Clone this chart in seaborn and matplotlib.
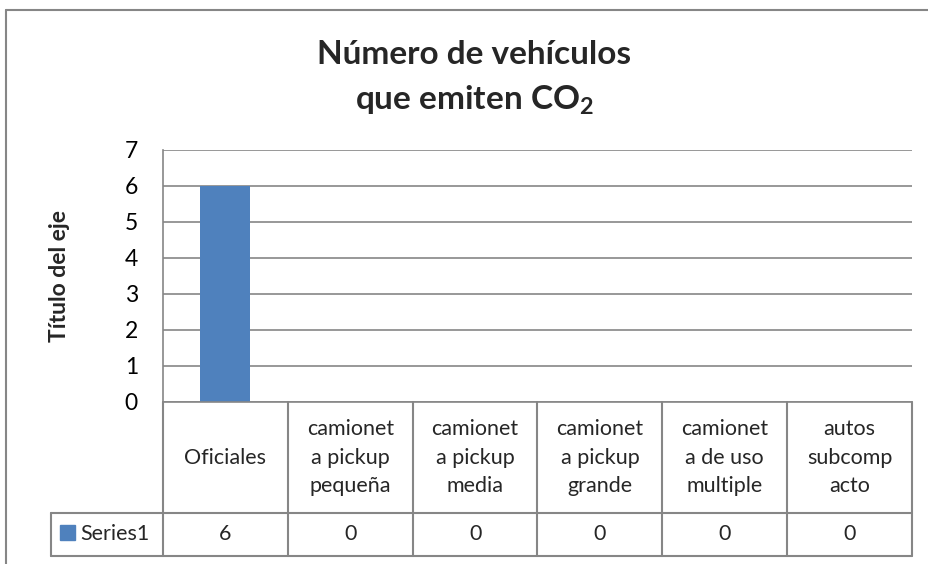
import pandas as pd
import matplotlib.pyplot as plt
import seaborn as sns
from matplotlib.patches import Rectangle

sns.set_theme(style="white")
plt.rcParams['font.family'] = ['Lato', 'DejaVu Sans']
plt.rcParams['mathtext.fontset'] = 'custom'
plt.rcParams['mathtext.rm'] = 'Lato:bold'
plt.rcParams['mathtext.bf'] = 'Lato:bold'

categorias = ['Oficiales', 'camioneta pickup pequeña', 'camioneta pickup media',
              'camioneta pickup grande', 'camioneta de uso multiple', 'autos subcompacto']
etiquetas = ['Oficiales', 'camionet\na pickup\npequeña', 'camionet\na pickup\nmedia',
             'camionet\na pickup\ngrande', 'camionet\na de uso\nmultiple', 'autos\nsubcomp\nacto']
valores = [6, 0, 0, 0, 0, 0]
serie = 'Series1'

azul = '#4F81BD'
gris = '#868686'

df = pd.DataFrame({'categoria': categorias, 'valor': valores})

fig = plt.figure(figsize=(9.29, 5.64), dpi=100)
W, H = 929, 564
ax = fig.add_axes([163 / W, 1 - 402 / H, 749 / W, 252 / H])

sns.barplot(data=df, x='categoria', y='valor', color=azul, saturation=1, width=0.4,
            linewidth=0, ax=ax)
ax.set_xlim(-0.5, 5.5)
ax.set_ylim(0, 7)
ax.set_yticks(range(8))
ax.grid(axis='y', color=gris, lw=1.2)
ax.set_axisbelow(True)
for s in ['top', 'right']:
    ax.spines[s].set_visible(False)
for s in ['left', 'bottom']:
    ax.spines[s].set_color(gris)
    ax.spines[s].set_linewidth(1.2)
ax.tick_params(axis='x', length=0, labelbottom=False)
ax.tick_params(axis='y', length=0, pad=18, labelsize=16.5, labelcolor='black')
ax.set_xlabel('')
ax.set_ylabel('Título del eje', fontsize=16.5, fontweight='bold')
ax.yaxis.set_label_coords((70 - 163) / 749, 0.5)

# tabla de datos bajo el eje
tr = ax.get_xaxis_transform()
h1 = 111 / 252
h2 = 43 / 252
x_izq = (51 - 163) / (749 / 6) - 0.5
kw = dict(color=gris, lw=1.5, transform=tr, clip_on=False)
for i in range(len(categorias) + 1):
    ax.plot([i - 0.5, i - 0.5], [0, -(h1 + h2)], **kw)
ax.plot([x_izq, x_izq], [-h1, -(h1 + h2)], **kw)
ax.plot([x_izq, 5.5], [-h1, -h1], **kw)
ax.plot([x_izq, 5.5], [-(h1 + h2), -(h1 + h2)], **kw)

for i, (lab, v) in enumerate(zip(etiquetas, valores)):
    ax.text(i, -h1 / 2, lab, transform=tr, ha='center', va='center',
            fontsize=15.5, linespacing=1.55, clip_on=False)
    ax.text(i, -h1 - h2 / 2, str(v), transform=tr, ha='center', va='center',
            fontsize=15.5, clip_on=False)

px = 749 / 6
ax.add_patch(Rectangle(((60 - 163) / px - 0.5, -(540 - 402) / 252), 15 / px, 15 / 252,
                       color=azul, transform=tr, clip_on=False))
ax.text((80 - 163) / px - 0.5, -h1 - h2 / 2, serie, transform=tr, ha='left', va='center',
        fontsize=15.5, clip_on=False)

# titulo
fig.text(474 / W, 1 - 55 / H, 'Número de vehículos', ha='center', va='center',
         fontsize=24, fontweight='bold')
fig.text(474 / W, 1 - 100 / H, 'que emiten CO$_2$', ha='center', va='center',
         fontsize=24, fontweight='bold')

# borde del grafico
fig.add_artist(plt.Line2D([6 / W, 6 / W], [0, 1 - 10 / H], color=gris, lw=1.5,
                          transform=fig.transFigure))
fig.add_artist(plt.Line2D([6 / W, 1], [1 - 10 / H, 1 - 10 / H], color=gris, lw=1.5,
                          transform=fig.transFigure))

fig.savefig('out.png', dpi=100)
